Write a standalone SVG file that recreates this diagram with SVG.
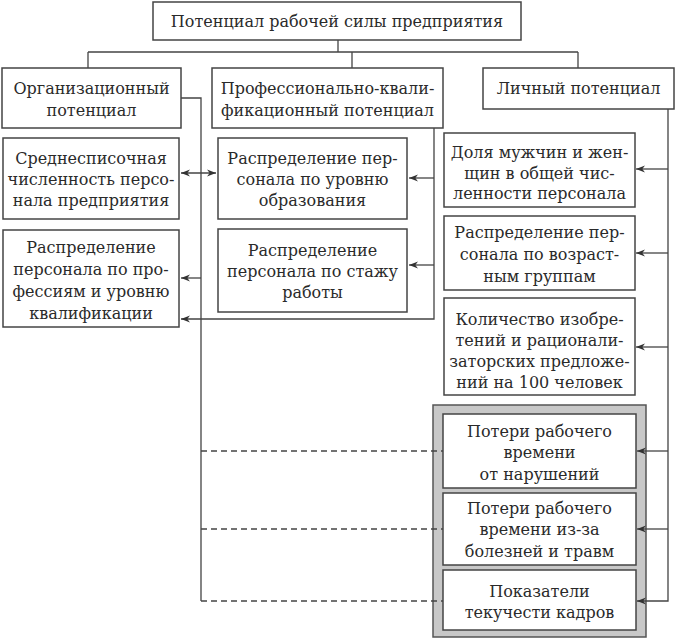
<svg xmlns="http://www.w3.org/2000/svg" width="676" height="638" viewBox="0 0 676 638">
<style>
.b{fill:#fff;stroke:#444;stroke-width:1.5}
.t{font-family:"DejaVu Serif","Liberation Serif",serif;font-size:16px;fill:#2a2a2a;text-anchor:middle}
.c{fill:none;stroke:#444;stroke-width:1.3}
.d{fill:none;stroke:#444;stroke-width:1.3;stroke-dasharray:6 4}
</style>
<defs>
<marker id="a" viewBox="0 0 10 10" refX="10" refY="5" markerWidth="9" markerHeight="9" markerUnits="userSpaceOnUse" orient="auto-start-reverse">
<path d="M0,1 L10,5 L0,9 L3,5 Z" fill="#333"/>
</marker>
</defs>
<rect x="0" y="0" width="676" height="638" fill="#fff"/>
<g id="group-losses">
<rect x="433" y="405" width="213" height="232" fill="#c8c8c8" stroke="#555" stroke-width="1.5"/>
</g>
<g id="connectors">
<path class="c" d="M338,40 V52 M88,52 H578 M88,52 V68 M352,52 V68 M578,52 V68"/>
<path class="c" d="M181,98 H201 V601"/>
<path class="d" d="M201,451 H443 M201,529 H443 M201,601 H443"/>
<path class="c" d="M181,173 H216" marker-start="url(#a)" marker-end="url(#a)"/>
<path class="c" d="M201,278 H181" marker-end="url(#a)"/>
<path class="c" d="M434,128 V319 H181" marker-end="url(#a)"/>
<path class="c" d="M434,178 H409" marker-end="url(#a)"/>
<path class="c" d="M434,265 H409" marker-end="url(#a)"/>
<path class="c" d="M668,109 V601 H637" marker-end="url(#a)"/>
<path class="c" d="M668,169 H636" marker-end="url(#a)"/>
<path class="c" d="M668,253 H636" marker-end="url(#a)"/>
<path class="c" d="M668,347 H636" marker-end="url(#a)"/>
<path class="c" d="M668,451 H637" marker-end="url(#a)"/>
<path class="c" d="M668,529 H637" marker-end="url(#a)"/>
</g>
<g id="root">
<rect class="b" x="153" y="2" width="368" height="38"/>
<text class="t" x="337" y="27">Потенциал рабочей силы предприятия</text>
</g>
<g id="org">
<rect class="b" x="2" y="68" width="179" height="60"/>
<text class="t" x="91.5" y="94">Организационный</text>
<text class="t" x="91.5" y="116">потенциал</text>
</g>
<g id="prof">
<rect class="b" x="212" y="68" width="231" height="60"/>
<text class="t" x="327.5" y="94">Профессионально-квали-</text>
<text class="t" x="327.5" y="116">фикационный потенциал</text>
</g>
<g id="personal">
<rect class="b" x="483" y="68" width="191" height="41"/>
<text class="t" x="578.5" y="94">Личный потенциал</text>
</g>
<g id="avg">
<rect class="b" x="3" y="138" width="176" height="81"/>
<text class="t" x="91" y="164">Среднесписочная</text>
<text class="t" x="91" y="185">численность персо-</text>
<text class="t" x="91" y="206">нала предприятия</text>
</g>
<g id="prof-dist">
<rect class="b" x="3" y="230" width="176" height="97"/>
<text class="t" x="91" y="253">Распределение</text>
<text class="t" x="91" y="275">персонала по про-</text>
<text class="t" x="91" y="297">фессиям и уровню</text>
<text class="t" x="91" y="319">квалификации</text>
</g>
<g id="edu">
<rect class="b" x="218" y="138" width="189" height="81"/>
<text class="t" x="312.5" y="164">Распределение пер-</text>
<text class="t" x="312.5" y="185">сонала по уровню</text>
<text class="t" x="312.5" y="206">образования</text>
</g>
<g id="exp">
<rect class="b" x="218" y="229" width="189" height="83"/>
<text class="t" x="312.5" y="256">Распределение</text>
<text class="t" x="312.5" y="277">персонала по стажу</text>
<text class="t" x="312.5" y="298">работы</text>
</g>
<g id="gender">
<rect class="b" x="444" y="133" width="191" height="74"/>
<text class="t" x="539.5" y="158">Доля мужчин и жен-</text>
<text class="t" x="539.5" y="179">щин в общей чис-</text>
<text class="t" x="539.5" y="199">ленности персонала</text>
</g>
<g id="age">
<rect class="b" x="444" y="216" width="191" height="74"/>
<text class="t" x="539.5" y="238">Распределение пер-</text>
<text class="t" x="539.5" y="260">сонала по возраст-</text>
<text class="t" x="539.5" y="282">ным группам</text>
</g>
<g id="inventions">
<rect class="b" x="444" y="298" width="191" height="97"/>
<text class="t" x="539.5" y="325">Количество изобре-</text>
<text class="t" x="539.5" y="346">тений и рационали-</text>
<text class="t" x="539.5" y="367">заторских предложе-</text>
<text class="t" x="539.5" y="388">ний на 100 человек</text>
</g>
<g id="loss-violations">
<rect class="b" x="443" y="414" width="193" height="74"/>
<text class="t" x="539.5" y="437">Потери рабочего</text>
<text class="t" x="539.5" y="458">времени</text>
<text class="t" x="539.5" y="480">от нарушений</text>
</g>
<g id="loss-illness">
<rect class="b" x="443" y="493" width="193" height="72"/>
<text class="t" x="539.5" y="514">Потери рабочего</text>
<text class="t" x="539.5" y="535">времени из-за</text>
<text class="t" x="539.5" y="557">болезней и травм</text>
</g>
<g id="turnover">
<rect class="b" x="443" y="570" width="193" height="60"/>
<text class="t" x="539.5" y="597">Показатели</text>
<text class="t" x="539.5" y="618">текучести кадров</text>
</g>
</svg>
